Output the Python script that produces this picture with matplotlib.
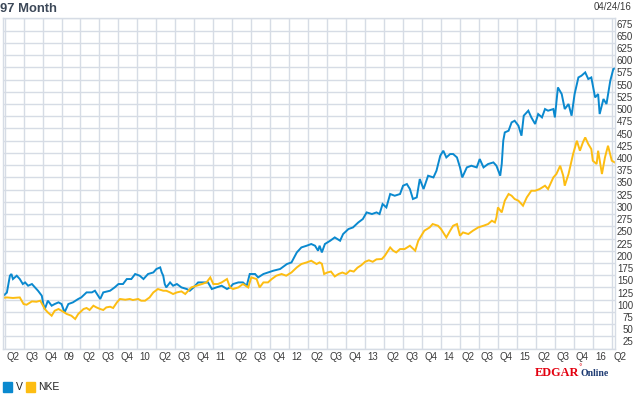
import numpy as np
import matplotlib
matplotlib.use("Agg")
import matplotlib.pyplot as plt
import matplotlib.transforms as mtransforms

# ---------------- data (decimal years, relative value) ----------------
v_t = [2008.22, 2008.28, 2008.32, 2008.34, 2008.36, 2008.41, 2008.45, 2008.49, 2008.52, 2008.56,
       2008.61, 2008.65, 2008.69, 2008.74, 2008.76, 2008.78, 2008.82, 2008.87, 2008.91, 2008.96,
       2009.00, 2009.04, 2009.09, 2009.15, 2009.22, 2009.26, 2009.33, 2009.40, 2009.44, 2009.51,
       2009.55, 2009.64, 2009.70, 2009.75, 2009.81, 2009.86, 2009.92, 2009.97, 2010.03, 2010.08,
       2010.14, 2010.21, 2010.25, 2010.30, 2010.32, 2010.34, 2010.36, 2010.38, 2010.43, 2010.47,
       2010.52, 2010.58, 2010.65, 2010.69, 2010.74, 2010.80, 2010.87, 2010.93, 2010.98, 2011.04,
       2011.11, 2011.18, 2011.22, 2011.26, 2011.33, 2011.39, 2011.44, 2011.48, 2011.55, 2011.59,
       2011.66, 2011.72, 2011.79, 2011.88, 2011.97, 2012.03, 2012.10, 2012.16, 2012.23, 2012.29,
       2012.34, 2012.38, 2012.40, 2012.43, 2012.47, 2012.54, 2012.60, 2012.67, 2012.71, 2012.78,
       2012.84, 2012.91, 2012.97, 2013.02, 2013.09, 2013.15, 2013.19, 2013.23, 2013.28, 2013.33,
       2013.39, 2013.46, 2013.50, 2013.55, 2013.59, 2013.63, 2013.68, 2013.72, 2013.77, 2013.83,
       2013.90, 2013.94, 2013.99, 2014.03, 2014.07, 2014.12, 2014.16, 2014.21, 2014.25, 2014.28,
       2014.34, 2014.40, 2014.47, 2014.51, 2014.56, 2014.62, 2014.69, 2014.73, 2014.78, 2014.80,
       2014.82, 2014.84, 2014.89, 2014.93, 2014.97, 2015.02, 2015.06, 2015.09, 2015.15, 2015.19,
       2015.24, 2015.28, 2015.33, 2015.37, 2015.41, 2015.48, 2015.50, 2015.54, 2015.59, 2015.63,
       2015.68, 2015.72, 2015.76, 2015.81, 2015.85, 2015.90, 2015.94, 2015.98, 2016.03, 2016.07,
       2016.09, 2016.14, 2016.18, 2016.23, 2016.27, 2016.29]
v_val = [118.6, 127, 161.5, 165, 154.7, 161.5, 154.7, 144.5, 147.8, 141,
         144.5, 137.6, 130.8, 120.6, 103.6, 93.4, 110.4, 100.2, 103.6, 107,
         103.6, 86.5, 103.6, 107, 113.9, 117.1, 127.4, 127.4, 130.8, 113.9,
         127.4, 130.8, 137.6, 144.5, 144.5, 154.7, 154.7, 165, 161.5, 154.7,
         165, 168.2, 175.2, 178.5, 168.2, 161.5, 144.5, 137.6, 147.8, 141,
         144.5, 137.6, 134.3, 130.8, 137.6, 147.8, 147.8, 147.8, 134.3, 137.6,
         141, 134.3, 137.6, 144.5, 147.8, 147.8, 141, 165, 165, 158,
         165, 168.2, 171.7, 175.2, 185.4, 188.7, 209.1, 219.3, 222.8, 226.3,
         222.8, 212.6, 222.8, 209.1, 226.3, 233, 239.8, 233, 246.7, 256.9,
         260.2, 270.4, 277.4, 290.9, 287.6, 290.9, 287.6, 308, 301.1, 328.5,
         325, 328.5, 345.5, 348.9, 338.7, 318.3, 321.6, 359.1, 338.7, 365.9,
         362.4, 376.1, 406.8, 417, 403.3, 410.2, 410.2, 403.3, 382.9, 362.4,
         382.9, 386.3, 382.9, 400, 382.9, 389.8, 393.1, 386.3, 365.9, 389.8,
         437.4, 454.4, 457.9, 474.9, 478.3, 468.1, 447.7, 488.6, 498.8, 485.1,
         471.6, 492, 485.1, 502.2, 498.8, 502.2, 485.1, 546.4, 532.9, 502.2,
         512.5, 488.6, 532.9, 566.8, 570.3, 577.1, 563.6, 566.8, 526, 532.9,
         492, 522.7, 512.5, 560.1, 584, 585]

nke_t = [2008.22, 2008.28, 2008.36, 2008.45, 2008.50, 2008.54, 2008.61, 2008.67, 2008.72, 2008.78,
         2008.82, 2008.87, 2008.91, 2008.96, 2009.00, 2009.07, 2009.13, 2009.18, 2009.22, 2009.29,
         2009.33, 2009.37, 2009.42, 2009.46, 2009.51, 2009.55, 2009.59, 2009.64, 2009.68, 2009.73,
         2009.77, 2009.84, 2009.90, 2009.94, 2010.01, 2010.05, 2010.10, 2010.16, 2010.21, 2010.27,
         2010.34, 2010.38, 2010.43, 2010.47, 2010.52, 2010.58, 2010.63, 2010.67, 2010.71, 2010.78,
         2010.85, 2010.91, 2010.96, 2011.00, 2011.06, 2011.11, 2011.18, 2011.22, 2011.26, 2011.33,
         2011.39, 2011.46, 2011.50, 2011.57, 2011.61, 2011.66, 2011.72, 2011.77, 2011.83, 2011.90,
         2011.96, 2012.03, 2012.10, 2012.16, 2012.23, 2012.29, 2012.36, 2012.40, 2012.43, 2012.46,
         2012.50, 2012.55, 2012.60, 2012.65, 2012.70, 2012.75, 2012.80, 2012.85, 2012.90, 2012.95,
         2013.00, 2013.05, 2013.10, 2013.15, 2013.22, 2013.26, 2013.33, 2013.37, 2013.41, 2013.46,
         2013.52, 2013.59, 2013.66, 2013.70, 2013.74, 2013.78, 2013.85, 2013.89, 2013.96, 2014.00,
         2014.07, 2014.12, 2014.16, 2014.21, 2014.25, 2014.29, 2014.36, 2014.42, 2014.49, 2014.56,
         2014.62, 2014.67, 2014.71, 2014.73, 2014.75, 2014.80, 2014.84, 2014.89, 2014.93, 2014.97,
         2015.02, 2015.08, 2015.13, 2015.19, 2015.24, 2015.30, 2015.37, 2015.41, 2015.48, 2015.52,
         2015.57, 2015.61, 2015.63, 2015.68, 2015.72, 2015.74, 2015.79, 2015.83, 2015.87, 2015.90,
         2015.94, 2015.98, 2016.00, 2016.05, 2016.07, 2016.12, 2016.16, 2016.20, 2016.25, 2016.29]
nke_val = [116, 117.1, 116, 117.1, 103.6, 102.2, 109, 108.3, 110.4, 93.4,
           86.5, 79.7, 89.9, 93.4, 89.9, 83.2, 79.7, 73, 83.2, 93.4,
           95.5, 91.4, 100.2, 96.7, 93.4, 91.4, 96.7, 98.1, 95.5, 107,
           113.9, 112.4, 113.9, 111.8, 113.9, 110.4, 110.4, 117.1, 127.4, 134.3,
           130.8, 130.8, 127.4, 124.1, 127.4, 129.4, 124.1, 130.8, 137.6, 141,
           144.5, 147.8, 158, 144.5, 144.5, 147.8, 154.7, 137.6, 134.3, 137.6,
           144.5, 137.6, 158, 154.7, 137.6, 147.8, 147.8, 154.7, 161.5, 165,
           161.5, 168.2, 178.5, 185.4, 188.7, 192.1, 185.4, 188.7, 186, 165,
           168, 170, 160, 165, 168, 165, 172, 170, 178, 183,
           190, 193, 190, 195, 195.6, 202.4, 219.3, 212.6, 209.1, 216,
           216, 222.8, 212.6, 233, 243.2, 253.5, 260.2, 267.1, 263.7, 256.9,
           239.8, 253.5, 263.7, 267.1, 243.2, 250, 246.7, 253.5, 260.2, 263.7,
           267.1, 273.9, 270.4, 280.6, 301.1, 290.9, 314.8, 328.5, 325, 318.3,
           314.8, 304.6, 321.6, 335.2, 335.2, 338.7, 345.5, 338.7, 362.4, 369.4,
           386.3, 365.9, 345.5, 369.4, 396.6, 410.2, 437.4, 417, 434.3, 444.2,
           430.7, 420.5, 396.6, 389.8, 417, 369.4, 403.3, 427.2, 396.6, 393]

series_names = ["V", "NKE"]
series_colors = ["#0a89cf", "#fdbd12"]
y_labels = list(range(25, 700, 25))
q_labels = ["Q2", "Q3", "Q4", "09", "Q2", "Q3", "Q4", "10", "Q2", "Q3", "Q4", "11",
            "Q2", "Q3", "Q4", "12", "Q2", "Q3", "Q4", "13", "Q2", "Q3", "Q4", "14",
            "Q2", "Q3", "Q4", "15", "Q2", "Q3", "Q4", "16", "Q2"]
q_pos = [2008.25 + 0.25 * i for i in range(len(q_labels))]

# ---------------- figure ----------------
W, H = 635, 395
fig = plt.figure(figsize=(W / 100, H / 100), dpi=100)
fig.patch.set_facecolor("white")
FONT = "Liberation Sans"
grid_c = "#d6dce5"

x0, x1 = 2008.225, 2016.29
left_px, top_px, bot_px = 2.7, 18.4, 348.6
px_per_year = 75.9
width_px = (x1 - x0) * px_per_year
ax = fig.add_axes([left_px / W, (H - bot_px) / H, width_px / W, (bot_px - top_px) / H])
ax.set_xlim(x0, x1)
ax.set_ylim(12.5, 687.5)

ax.set_xticks(q_pos)
ax.set_yticks([])
ax.set_yticks(np.arange(12.5, 700, 25), minor=True)
ax.grid(True, which="major", axis="x", color=grid_c, lw=1.0)
ax.grid(True, which="minor", axis="y", color=grid_c, lw=1.0)
ax.tick_params(which="both", length=0, labelbottom=False, labelleft=False)
for s in ax.spines.values():
    s.set_color(grid_c)
    s.set_linewidth(1.0)
ax.set_axisbelow(True)

ax.plot(v_t, v_val, color=series_colors[0], lw=1.4, solid_joinstyle="miter")
ax.plot(nke_t, nke_val, color=series_colors[1], lw=1.4, solid_joinstyle="miter")

# x labels (left aligned just after each quarter gridline)
trans = mtransforms.blended_transform_factory(ax.transData, fig.transFigure)
trans = mtransforms.offset_copy(trans, fig=fig, x=2.0, y=0, units="dots")
for p, lab in zip(q_pos, q_labels):
    ax.text(p, 1 - 357.5 / H, lab, transform=trans, ha="left", va="center",
            fontsize=7, family=FONT, color="#3a3a3a", clip_on=False)

# y labels on the right (right aligned)
for v in y_labels:
    yd = ax.transData.transform((x0, v))[1]
    yf = fig.transFigure.inverted().transform((0, yd))[1]
    fig.text(633 / W, yf, str(v), ha="right", va="center", fontsize=7,
             family=FONT, color="#3a3a3a")

# title & date
fig.text(0 / W, 1 - 8.5 / H, "97 Month", ha="left", va="center", fontsize=9.4,
         fontweight="bold", family=FONT, color="#3c4858")
fig.text(631 / W, 1 - 6.5 / H, "04/24/16", ha="right", va="center", fontsize=7,
         family=FONT, color="#3a3a3a")

# legend
ly = 1 - 386.5 / H
fig.patches.append(plt.Rectangle((3.3 / W, 1 - 391.7 / H), 9 / W, 10 / H,
                                 transform=fig.transFigure, color=series_colors[0]))
fig.text(15.5 / W, ly, series_names[0], ha="left", va="center", fontsize=7.5,
         family=FONT, color="#222222")
fig.patches.append(plt.Rectangle((25.7 / W, 1 - 391.7 / H), 9.3 / W, 10 / H,
                                 transform=fig.transFigure, color=series_colors[1]))
fig.text(38.3 / W, ly, series_names[1], ha="left", va="center", fontsize=7.5,
         family=FONT, color="#222222")

# EDGAR Online logo
fig.text(535 / W, 1 - 375.5 / H, "EDGAR", ha="left", va="baseline", fontsize=8.8,
         fontweight="bold", family="Liberation Serif", color="#e3000f")
fig.text(578 / W, 1 - 369 / H, "\u00b0", ha="left", va="baseline", fontsize=5,
         family="DejaVu Sans", color="#e3000f")
fig.text(580.5 / W, 1 - 375.5 / H, "Online", ha="left", va="baseline", fontsize=7.0,
         fontweight="bold", family="Liberation Serif", color="#1d3a72")

fig.savefig("out.png", dpi=100, facecolor="white")
